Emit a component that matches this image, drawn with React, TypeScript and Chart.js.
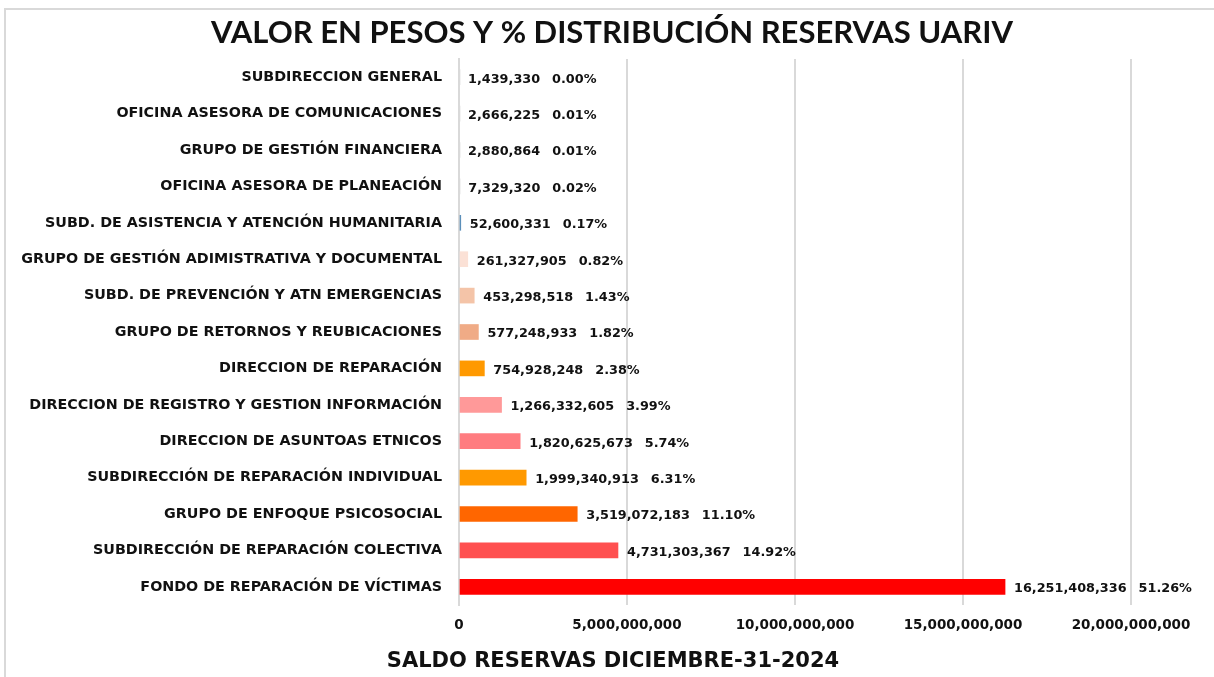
import React, { useEffect, useRef } from "react";
import { Chart, registerables } from "chart.js";

Chart.register(...registerables);

const categories = [
  "SUBDIRECCION GENERAL",
  "OFICINA ASESORA DE COMUNICACIONES",
  "GRUPO DE GESTIÓN FINANCIERA",
  "OFICINA ASESORA DE PLANEACIÓN",
  "SUBD. DE ASISTENCIA Y ATENCIÓN HUMANITARIA",
  "GRUPO DE GESTIÓN ADIMISTRATIVA Y DOCUMENTAL",
  "SUBD. DE PREVENCIÓN Y ATN EMERGENCIAS",
  "GRUPO DE RETORNOS Y REUBICACIONES",
  "DIRECCION DE REPARACIÓN",
  "DIRECCION DE REGISTRO Y GESTION INFORMACIÓN",
  "DIRECCION DE ASUNTOAS ETNICOS",
  "SUBDIRECCIÓN DE REPARACIÓN INDIVIDUAL",
  "GRUPO DE ENFOQUE PSICOSOCIAL",
  "SUBDIRECCIÓN DE REPARACIÓN COLECTIVA",
  "FONDO DE REPARACIÓN DE VÍCTIMAS",
];

const values = [
  1439330, 2666225, 2880864, 7329320, 52600331, 261327905, 453298518,
  577248933, 754928248, 1266332605, 1820625673, 1999340913, 3519072183,
  4731303367, 16251408336,
];

const percents = [
  "0.00%", "0.01%", "0.01%", "0.02%", "0.17%", "0.82%", "1.43%", "1.82%",
  "2.38%", "3.99%", "5.74%", "6.31%", "11.10%", "14.92%", "51.26%",
];

const barColors = [
  "#d9d9d9", "#d9d9d9", "#d9d9d9", "#d9d9d9", "#5b8fb9", "#fbe1d6",
  "#f4c4a8", "#f0ab86", "#ff9900", "#ff9999", "#ff7c80", "#ff9900",
  "#ff6600", "#ff5050", "#ff0000",
];

const titleText = "VALOR EN PESOS Y % DISTRIBUCIÓN RESERVAS UARIV";
const xAxisTitle = "SALDO RESERVAS DICIEMBRE-31-2024";
const xMax = 20000000000;
const xStep = 5000000000;

const TITLE_FONT = "Lato, 'Open Sans', sans-serif";
const FONT = "'DejaVu Sans', Verdana, sans-serif";
const fmt = (v: number) => v.toLocaleString("en-US");

const decorPlugin = {
  id: "decor",
  beforeDraw(chart: any) {
    const ctx = chart.ctx;
    ctx.save();
    ctx.fillStyle = "#ffffff";
    ctx.fillRect(0, 0, chart.width, chart.height);
    ctx.strokeStyle = "#d9d9d9";
    ctx.lineWidth = 2;
    ctx.beginPath();
    ctx.moveTo(5, chart.height + 5);
    ctx.lineTo(5, 9);
    ctx.lineTo(chart.width + 5, 9);
    ctx.stroke();
    ctx.restore();
  },
  afterDraw(chart: any) {
    const ctx = chart.ctx;
    ctx.save();
    ctx.fillStyle = "#111111";
    ctx.textAlign = "center";
    ctx.textBaseline = "middle";
    ctx.font = `bold 31px ${TITLE_FONT}`;
    ctx.fillText(titleText, 612, 33);
    ctx.font = `bold 21px ${FONT}`;
    ctx.fillText(xAxisTitle, 613, 662);
    ctx.restore();
  },
};

const labelPlugin = {
  id: "barLabels",
  afterDatasetsDraw(chart: any) {
    const ctx = chart.ctx;
    const meta = chart.getDatasetMeta(0);
    ctx.save();
    ctx.fillStyle = "#111111";
    ctx.font = `bold 12.8px ${FONT}`;
    ctx.textBaseline = "middle";
    ctx.textAlign = "left";
    meta.data.forEach((bar: any, i: number) => {
      const v = fmt(values[i]);
      const x = bar.x + 9;
      const y = bar.y + 2;
      ctx.fillText(v, x, y);
      const w = ctx.measureText(v).width;
      ctx.fillText(percents[i], x + w + 12, y);
    });
    ctx.restore();
  },
};

export default function App() {
  const ref = useRef<HTMLCanvasElement | null>(null);
  useEffect(() => {
    if (!ref.current) return;
    const chart = new Chart(ref.current, {
      type: "bar",
      data: {
        labels: categories,
        datasets: [
          {
            data: values,
            backgroundColor: barColors,
            barThickness: 15,
          },
        ],
      },
      options: {
        indexAxis: "y",
        animation: false,
        responsive: false,
        maintainAspectRatio: false,
        layout: { padding: { top: 59, right: 83, left: 0, bottom: 0 } },
        plugins: {
          legend: { display: false },
          title: { display: false },
          tooltip: { enabled: false },
        },
        scales: {
          x: {
            min: 0,
            max: xMax,
            ticks: {
              stepSize: xStep,
              padding: 12,
              color: "#111111",
              font: { family: FONT, size: 13.5, weight: "bold" },
              callback: (v: any) => fmt(Number(v)),
            },
            grid: { color: "#d9d9d9", lineWidth: 2, drawTicks: false },
            border: { display: false },
            afterFit: (s: any) => {
              s.height = 72;
            },
          },
          y: {
            ticks: {
              padding: 17,
              color: "#111111",
              font: { family: FONT, size: 14.3, weight: "bold" },
            },
            grid: { display: false, drawTicks: false },
            border: { display: true, color: "#d9d9d9", width: 2 },
            afterFit: (s: any) => {
              s.width = 459;
            },
          },
        },
      },
      plugins: [decorPlugin, labelPlugin],
    });
    return () => chart.destroy();
  }, []);
  return (
    <div style={{ position: "fixed", left: 0, top: 0, width: 1214, height: 677, background: "#fff" }}>
      <canvas ref={ref} width={1214} height={677} style={{ display: "block" }} />
    </div>
  );
}
